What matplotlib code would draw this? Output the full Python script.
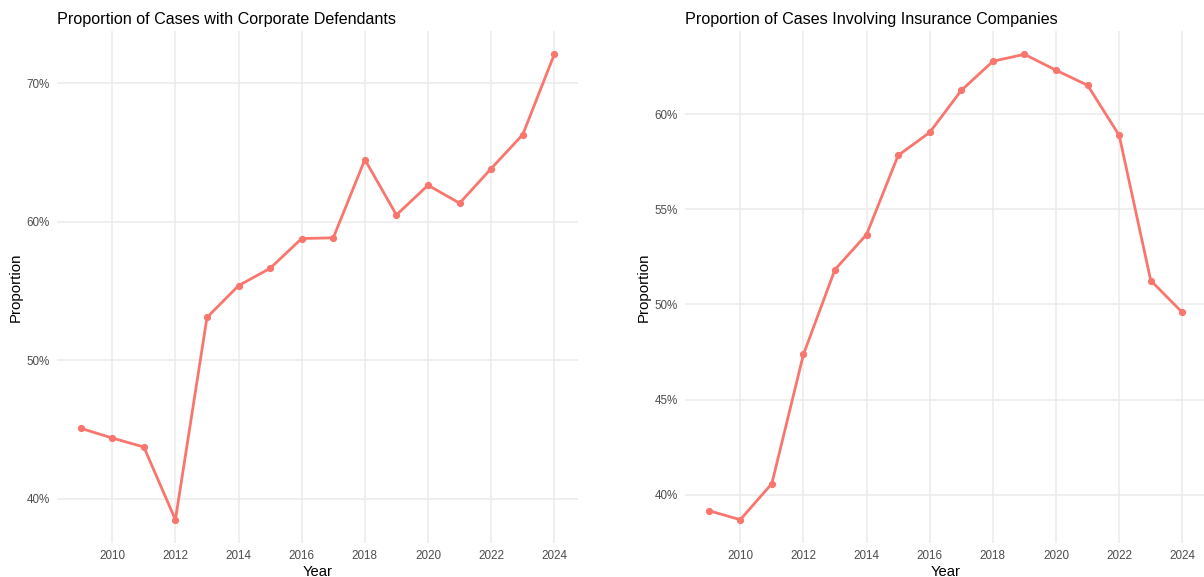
import matplotlib
matplotlib.use("Agg")
import matplotlib.pyplot as plt
from matplotlib.ticker import FuncFormatter, MultipleLocator

plt.rcParams['font.family'] = ['Liberation Sans', 'DejaVu Sans']

years = list(range(2009, 2025))
corporate = [45.1, 44.4, 43.75, 38.5, 53.1, 55.4, 56.65, 58.8, 58.85, 64.5,
             60.5, 62.65, 61.35, 63.85, 66.3, 72.1]
insurance = [39.16, 38.68, 40.58, 47.37, 51.84, 53.68, 57.84, 59.05, 61.26,
             62.79, 63.16, 62.32, 61.53, 58.9, 51.26, 49.58]

titles = ["Proportion of Cases with Corporate Defendants",
          "Proportion of Cases Involving Insurance Companies"]
line_color = "#F8766D"
grid_color = "#EBEBEB"
tick_color = "#4D4D4D"

W, H = 1204, 577
fig = plt.figure(figsize=(W / 100, H / 100), dpi=100)

panels = [
    (57, 521, corporate, 10),
    (685, 521, insurance, 5),
]
top, bottom = 31, 543

for (x0, w, data, step), title in zip(panels, titles):
    ax = fig.add_axes([x0 / W, 1 - bottom / H, w / W, (bottom - top) / H])
    ax.plot(years, data, color=line_color, lw=2.0, marker='o', ms=4.2,
            zorder=3, solid_capstyle='round')
    ax.margins(x=0.05, y=0.05)
    ax.xaxis.set_major_locator(MultipleLocator(2))
    ax.yaxis.set_major_locator(MultipleLocator(step))
    ax.yaxis.set_major_formatter(FuncFormatter(lambda v, p: f"{v:.0f}%"))
    ax.grid(True, color=grid_color, lw=1.1)
    ax.set_axisbelow(True)
    for s in ax.spines.values():
        s.set_visible(False)
    ax.tick_params(length=0, labelsize=8.4, labelcolor=tick_color, pad=5)
    ax.set_xlabel("Year", fontsize=10.6, color="black", labelpad=2)
    ax.set_ylabel("Proportion", fontsize=10.8, color="black", labelpad=3)
    ax.set_title(title, loc='left', fontsize=11.6, color="black", pad=5)

fig.savefig("out.png", dpi=100, facecolor="white")
